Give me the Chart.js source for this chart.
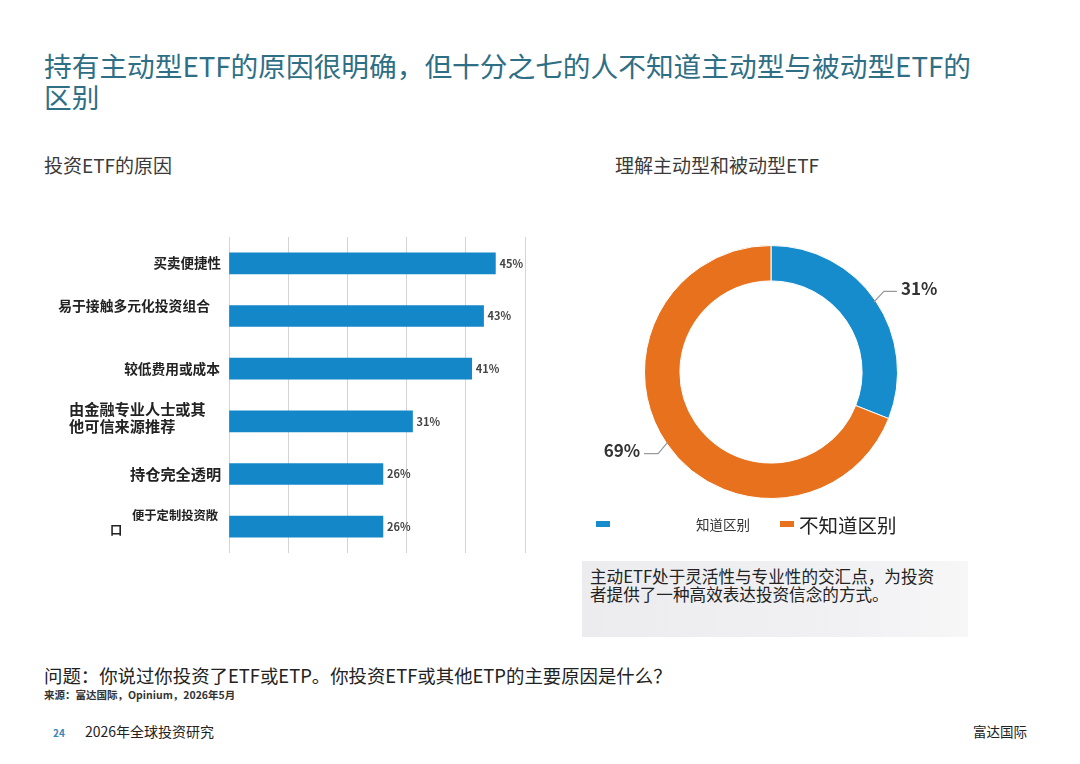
<!DOCTYPE html>
<html lang="zh-CN">
<head>
<meta charset="utf-8">
<title>持有主动型ETF的原因</title>
<script src="https://cdn.jsdelivr.net/npm/chart.js@4.4.1/dist/chart.umd.min.js"></script>
<style>
  html, body { margin: 0; padding: 0; background: #fff; }
  body { width: 1080px; height: 764px; position: relative; overflow: hidden;
         font-family: "Noto Sans CJK SC", "Noto Sans", sans-serif; color: #333; }
  .abs { position: absolute; white-space: nowrap; }
  #title { left: 44px; top: 50px; font-size: 27.7px; line-height: 31px; color: #2f6f86; }
  .sub { top: 151px; font-size: 19px; color: #3a3a3a; }
  #barWrap { left: 40px; top: 230px; width: 500px; height: 330px; }
  #pieWrap { left: 580px; top: 230px; width: 400px; height: 290px; }
  .sw { position: absolute; width: 14px; height: 6px; }
  #note { left: 582px; top: 561px; width: 386px; height: 76px;
          background: linear-gradient(90deg, #ececee 0%, #f1f1f3 70%, #f7f7f8 100%); }
  #note div { position: absolute; left: 8px; top: 6px; font-size: 16.6px; line-height: 18px; color: #222; white-space: nowrap; }
  #q { left: 44px; top: 662px; font-size: 18.4px; color: #222; }
  #src { left: 44px; top: 687px; font-size: 10.5px; font-weight: 700; color: #333; }
  #pg { left: 53px; top: 725px; font-size: 10px; font-weight: 700; color: #3b86b5; }
  #rep { left: 85px; top: 721px; font-size: 14px; color: #222; }
  #brand { left: 973px; top: 721px; font-size: 13.5px; color: #222; }
</style>
</head>
<body>
<div id="title" class="abs">持有主动型ETF的原因很明确，但十分之七的人不知道主动型与被动型ETF的<br>区别</div>
<div class="abs sub" style="left:44px">投资ETF的原因</div>
<div class="abs sub" style="left:615px">理解主动型和被动型ETF</div>

<div id="barWrap" class="abs"><canvas id="barChart"></canvas></div>
<div id="pieWrap" class="abs"><canvas id="pieChart"></canvas></div>

<div class="sw" style="left:596px; top:521px; background:#168ccc"></div>
<div class="abs" style="left:696px; top:514px; font-size:13.5px; color:#333">知道区别</div>
<div class="sw" style="left:780px; top:521px; background:#e8711d"></div>
<div class="abs" style="left:799px; top:510px; font-size:19.5px; color:#222">不知道区别</div>

<div id="note" class="abs"><div>主动ETF处于灵活性与专业性的交汇点，为投资<br>者提供了一种高效表达投资信念的方式。</div></div>

<div id="q" class="abs">问题：你说过你投资了ETF或ETP。你投资ETF或其他ETP的主要原因是什么？</div>
<div id="src" class="abs">来源：富达国际，Opinium，2026年5月</div>
<div id="pg" class="abs">24</div>
<div id="rep" class="abs">2026年全球投资研究</div>
<div id="brand" class="abs">富达国际</div>

<script>
// 投资ETF的原因
const reasons = [
  ['买卖便捷性'],
  ['易于接触多元化投资组合'],
  ['较低费用或成本'],
  ['由金融专业人士或其', '他可信来源推荐'],
  ['持仓完全透明'],
  ['便于定制投资敞', '口']
];
const reasonShares = [45, 43, 41, 31, 26, 26];
const xTicks = [0, 10, 20, 30, 40, 50];

// 理解主动型和被动型ETF
const awareLabels = ['知道区别', '不知道区别'];
const awareShares = [31, 69];

const BLUE = '#1487c8';
const DONUT_BLUE = '#168ccc';
const ORANGE = '#e8711d';
const CJK = '"Noto Sans CJK SC", sans-serif';

// how each category label sits next to its bar (the source layout is uneven)
// x is in canvas pixels, the canvas starts 40px from the page edge
const labelStyle = [
  { size: 13.5, align: 'right', x: 181, dy: [0] },
  { size: 13.8, align: 'right', x: 170, dy: [-10] },
  { size: 13.7, align: 'right', x: 180, dy: [0] },
  { size: 15.2, align: 'left', x: 29, dy: [-12, 5] },
  { size: 15.2, align: 'left', x: 90, dy: [0] },
  { size: 12.3, align: 'left', x: 92, dy: [-11, 4] }
];

const reasonLabels = {
  id: 'reasonLabels',
  afterDraw(chart) {
    const { ctx } = chart;
    const y = chart.scales.y;
    ctx.save();
    ctx.fillStyle = '#222';
    ctx.textBaseline = 'middle';
    reasons.forEach((lines, i) => {
      const st = labelStyle[i];
      const cy = y.getPixelForValue(i);
      ctx.font = `700 ${st.size}px ${CJK}`;
      ctx.textAlign = st.align;
      lines.forEach((ln, k) => {
        let x = st.x;
        if (i === 5 && k === 1) x = 70;
        ctx.fillText(ln, x, cy + st.dy[k]);
      });
    });
    // value labels
    const meta = chart.getDatasetMeta(0);
    ctx.font = `700 11px ${CJK}`;
    ctx.fillStyle = '#444';
    ctx.textAlign = 'left';
    meta.data.forEach((bar, i) => {
      ctx.fillText(reasonShares[i] + '%', bar.x + 4, bar.y);
    });
    ctx.restore();
  }
};

new Chart(document.getElementById('barChart'), {
  type: 'bar',
  data: {
    labels: reasons,
    datasets: [{
      data: reasonShares,
      backgroundColor: BLUE,
      barThickness: 21
    }]
  },
  options: {
    indexAxis: 'y',
    responsive: true,
    maintainAspectRatio: false,
    animation: false,
    layout: { padding: { top: 7, bottom: 7, right: 15, left: 0 } },
    plugins: { legend: { display: false }, tooltip: { enabled: false } },
    scales: {
      x: {
        min: 0,
        max: 50,
        afterBuildTicks: (s) => { s.ticks = xTicks.map(v => ({ value: v })); },
        ticks: { display: false },
        grid: { color: '#d4d4d4', lineWidth: 1, drawTicks: false },
        border: { display: false }
      },
      y: {
        ticks: { display: false },
        grid: { display: false },
        border: { display: false },
        afterFit: (s) => { s.width = 189; }
      }
    }
  },
  plugins: [reasonLabels]
});

const leaderLabels = {
  id: 'leaderLabels',
  afterDraw(chart) {
    const { ctx } = chart;
    const meta = chart.getDatasetMeta(0);
    ctx.save();
    meta.data.forEach((arc, i) => {
      const mid = (arc.startAngle + arc.endAngle) / 2;
      const r = arc.outerRadius;
      const x0 = arc.x + Math.cos(mid) * (r - 2);
      const y0 = arc.y + Math.sin(mid) * (r - 2);
      const x1 = arc.x + Math.cos(mid) * (r + 10);
      const y1 = arc.y + Math.sin(mid) * (r + 10) + (i === 0 ? -4 : 5);
      const right = Math.cos(mid) > 0;
      const x2 = x1 + (right ? 13 : -14);
      ctx.strokeStyle = '#9a9a9a';
      ctx.lineWidth = 1.2;
      ctx.beginPath();
      ctx.moveTo(x0, y0);
      ctx.lineTo(x1, y1);
      ctx.lineTo(x2, y1);
      ctx.stroke();
      ctx.font = `700 17px ${CJK}`;
      ctx.fillStyle = '#333';
      ctx.textBaseline = 'middle';
      ctx.textAlign = right ? 'left' : 'right';
      ctx.fillText(awareShares[i] + '%', x2 + (right ? 4 : -4), y1 - 3);
    });
    ctx.restore();
  }
};

new Chart(document.getElementById('pieChart'), {
  type: 'doughnut',
  data: {
    labels: awareLabels,
    datasets: [{
      data: awareShares,
      backgroundColor: [DONUT_BLUE, ORANGE],
      borderColor: '#ffffff',
      borderWidth: 1
    }]
  },
  options: {
    responsive: true,
    maintainAspectRatio: false,
    animation: false,
    cutout: '72%',
    layout: { padding: { left: 64, right: 82, top: 15, bottom: 21 } },
    plugins: { legend: { display: false }, tooltip: { enabled: false } }
  },
  plugins: [leaderLabels]
});
</script>
</body>
</html>
